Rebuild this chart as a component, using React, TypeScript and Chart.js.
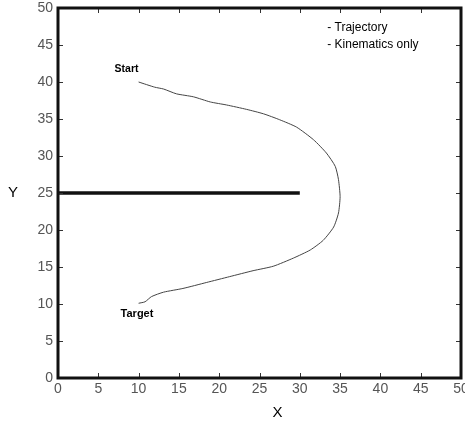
import React, { useEffect, useRef } from "react";
import Chart from "chart.js/auto";

// trajectory (x, y pairs)
const trajX = [
  10, 12, 13.1, 14.7, 16.8, 18.9, 20.9, 23.4, 25.5, 27.5, 29.6, 31.7, 33.3, 34.4,
  34.8, 35, 34.8, 34.2, 32.9, 31.3, 29.2, 26.7, 24.2, 21.3, 18.4, 15.5, 13.1, 11.6,
  10.8, 10,
];
const trajY = [
  40, 39.3, 39.05, 38.4, 38, 37.3, 36.9, 36.3, 35.7, 34.9, 33.9, 32.2, 30.4, 28.6,
  26.8, 24.5, 22.3, 20.4, 18.6, 17.3, 16.2, 15.1, 14.5, 13.7, 12.9, 12.1, 11.6, 11,
  10.3, 10.1,
];
const barrierX = [0, 30];
const barrierY = [25, 25];
const tickValues = [0, 5, 10, 15, 20, 25, 30, 35, 40, 45, 50];
const legendLines = ["- Trajectory", "- Kinematics only"];

const FONT = "'Liberation Sans', Arial, sans-serif";

const framePlugin = {
  id: "frame",
  afterDraw(chart: any) {
    const { ctx, chartArea: a, scales } = chart;
    const sx = scales.x;
    const sy = scales.y;
    ctx.save();
    // inward ticks
    ctx.strokeStyle = "#333";
    ctx.lineWidth = 1;
    ctx.beginPath();
    tickValues.forEach((v) => {
      const px = Math.round(sx.getPixelForValue(v)) + 0.5;
      ctx.moveTo(px, a.bottom);
      ctx.lineTo(px, a.bottom - 5);
      ctx.moveTo(px, a.top);
      ctx.lineTo(px, a.top + 5);
      const py = Math.round(sy.getPixelForValue(v)) + 0.5;
      ctx.moveTo(a.left, py);
      ctx.lineTo(a.left + 5, py);
      ctx.moveTo(a.right, py);
      ctx.lineTo(a.right - 5, py);
    });
    ctx.stroke();
    // frame
    ctx.strokeStyle = "#111";
    ctx.lineWidth = 3;
    ctx.strokeRect(a.left, a.top, a.right - a.left, a.bottom - a.top);

    // annotations
    ctx.fillStyle = "#000";
    ctx.textAlign = "center";
    ctx.textBaseline = "middle";
    ctx.font = `bold 10.5px ${FONT}`;
    ctx.fillText("Start", sx.getPixelForValue(8.5), sy.getPixelForValue(41.7));
    ctx.font = `bold 11px ${FONT}`;
    ctx.fillText("Target", sx.getPixelForValue(9.8), sy.getPixelForValue(8.65));

    ctx.textAlign = "left";
    ctx.font = `12px ${FONT}`;
    legendLines.forEach((t, i) => {
      ctx.fillText(t, sx.getPixelForValue(33.4), sy.getPixelForValue(47.3 - i * 2.3));
    });

    ctx.textAlign = "center";
    ctx.font = `15px ${FONT}`;
    ctx.fillText("X", (a.left + a.right) / 2 + 18, a.bottom + 35);
    ctx.fillText("Y", 13, (a.top + a.bottom) / 2);
    ctx.restore();
  },
};

function App(): JSX.Element {
  const chartRef = useRef<HTMLCanvasElement>(null);
  const chartInstance = useRef<Chart | null>(null);

  useEffect(() => {
    document.body.style.margin = "0";
    const ctx = chartRef.current?.getContext("2d");
    if (!ctx) return;
    if (chartInstance.current) chartInstance.current.destroy();

    const tickFont = { family: FONT, size: 14 };

    chartInstance.current = new Chart(ctx, {
      type: "scatter",
      data: {
        datasets: [
          {
            label: "Trajectory",
            data: trajX.map((x, i) => ({ x, y: trajY[i] })),
            showLine: true,
            borderColor: "#444",
            borderWidth: 1,
            pointRadius: 0,
            tension: 0.2,
          },
          {
            label: "Barrier",
            data: barrierX.map((x, i) => ({ x, y: barrierY[i] })),
            showLine: true,
            borderColor: "#111",
            borderWidth: 3.5,
            pointRadius: 0,
          },
        ],
      },
      options: {
        animation: false,
        responsive: true,
        maintainAspectRatio: false,
        layout: { padding: { top: 8, right: 4, left: 0, bottom: 0 } },
        plugins: { legend: { display: false }, tooltip: { enabled: false } },
        scales: {
          x: {
            type: "linear",
            min: 0,
            max: 50,
            grid: { display: false, drawTicks: false },
            border: { display: false },
            afterBuildTicks: (s: any) => {
              s.ticks = tickValues.map((v) => ({ value: v }));
            },
            ticks: { color: "#555", font: tickFont, padding: 3, maxRotation: 0 },
            afterFit: (s: any) => {
              s.height = 45;
              s.paddingLeft = 0;
              s.paddingRight = 0;
            },
          },
          y: {
            type: "linear",
            min: 0,
            max: 50,
            grid: { display: false, drawTicks: false },
            border: { display: false },
            afterBuildTicks: (s: any) => {
              s.ticks = tickValues.map((v) => ({ value: v }));
            },
            ticks: { color: "#555", font: tickFont, padding: 5 },
            afterFit: (s: any) => {
              s.width = 58;
              s.paddingTop = 0;
              s.paddingBottom = 0;
            },
          },
        },
      },
      plugins: [framePlugin],
    });

    return () => {
      if (chartInstance.current) {
        chartInstance.current.destroy();
        chartInstance.current = null;
      }
    };
  }, []);

  return (
    <div style={{ width: 465, height: 423, position: "relative", background: "#fff" }}>
      <canvas ref={chartRef}></canvas>
    </div>
  );
}

export default App;
